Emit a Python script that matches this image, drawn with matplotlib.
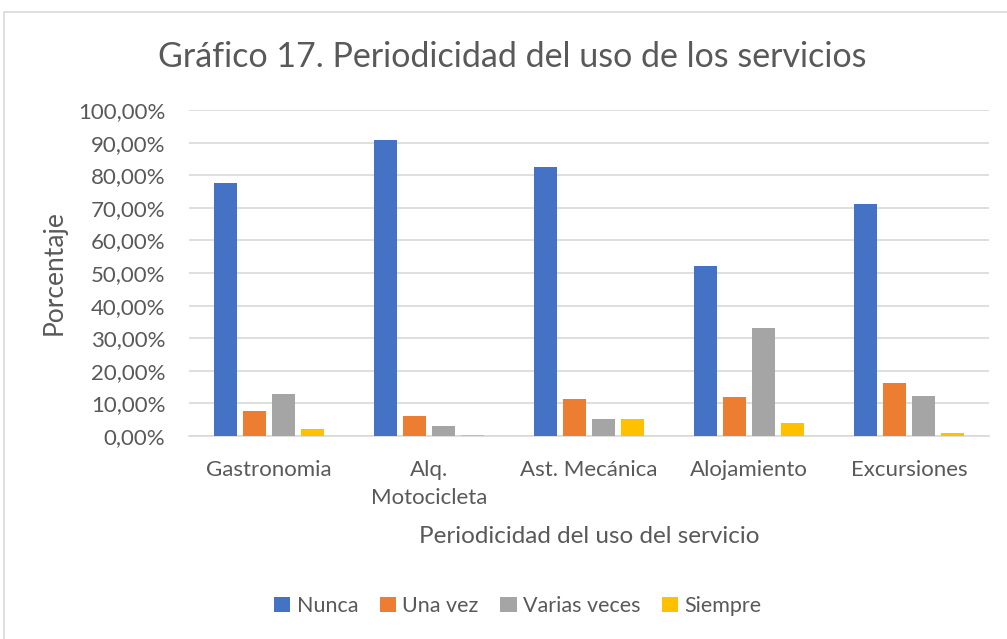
import numpy as np
import matplotlib
matplotlib.use("Agg")
import matplotlib.pyplot as plt
from matplotlib.ticker import FuncFormatter
from matplotlib.patches import Rectangle

categories = ["Gastronomia", "Alq.\nMotocicleta", "Ast. Mecánica", "Alojamiento", "Excursiones"]
series_names = ["Nunca", "Una vez", "Varias veces", "Siempre"]
nunca = [77.6, 90.8, 82.5, 52.1, 71.2]
una_vez = [7.7, 6.1, 11.3, 11.9, 16.4]
varias = [12.9, 3.1, 5.2, 33.2, 12.2]
siempre = [2.0, 0.2, 5.2, 3.9, 0.8]
colors = ["#4472C4", "#ED7D31", "#A5A5A5", "#FFC000"]

TXT = "#595959"
plt.rcParams["font.family"] = ["Lato", "DejaVu Sans"]

fig = plt.figure(figsize=(10.07, 6.39), dpi=100)
fig.patches.append(Rectangle((4 / 1007, -0.01), 1.02, 1 - 11.5 / 639 + 0.01,
                             transform=fig.transFigure, fill=False,
                             edgecolor="#D9D9D9", lw=1.2))
ax = fig.add_axes([189 / 1007, 1 - 436 / 639, 800 / 1007, 326 / 639])

x = np.arange(len(categories))
w = 23 / 160
pitch = 29 / 160
for i, (vals, name) in enumerate(zip([nunca, una_vez, varias, siempre], series_names)):
    ax.bar(x + (i - 1.5) * pitch, np.array(vals) / 100, width=w, color=colors[i],
           label=name, zorder=3)

ax.set_xlim(-0.5, len(categories) - 0.5)
ax.set_ylim(0, 1.0)
ax.set_yticks(np.arange(0, 1.01, 0.1))
ax.yaxis.set_major_formatter(FuncFormatter(lambda v, p: f"{v * 100:.2f}%".replace(".", ",")))
ax.set_xticks(x)
ax.set_xticklabels(categories, linespacing=1.55)
ax.tick_params(axis="both", length=0, colors=TXT, labelsize=16)
ax.tick_params(axis="x", pad=17)
ax.tick_params(axis="y", pad=17)
ax.grid(axis="y", color="#D9D9D9", lw=1.2, zorder=0)
for s in ["top", "right", "left"]:
    ax.spines[s].set_visible(False)
ax.spines["bottom"].set_color("#D9D9D9")
ax.spines["bottom"].set_linewidth(1.2)

ax.set_ylabel("Porcentaje", fontsize=19, color=TXT, labelpad=8)
ax.set_xlabel("Periodicidad del uso del servicio", fontsize=17.5, color=TXT, labelpad=13)
fig.text(512 / 1007, 1 - 57 / 639, "Gráfico 17. Periodicidad del uso de los servicios",
         ha="center", va="center", fontsize=24.5, color=TXT)

leg = fig.legend(loc="center", bbox_to_anchor=(518 / 1007, 1 - 606 / 639), ncol=4,
                 frameon=False, fontsize=15.5, handlelength=0.75, handleheight=0.75,
                 handletextpad=0.3, columnspacing=1.0)
for t in leg.get_texts():
    t.set_color(TXT)

fig.savefig("out.png", dpi=100)
